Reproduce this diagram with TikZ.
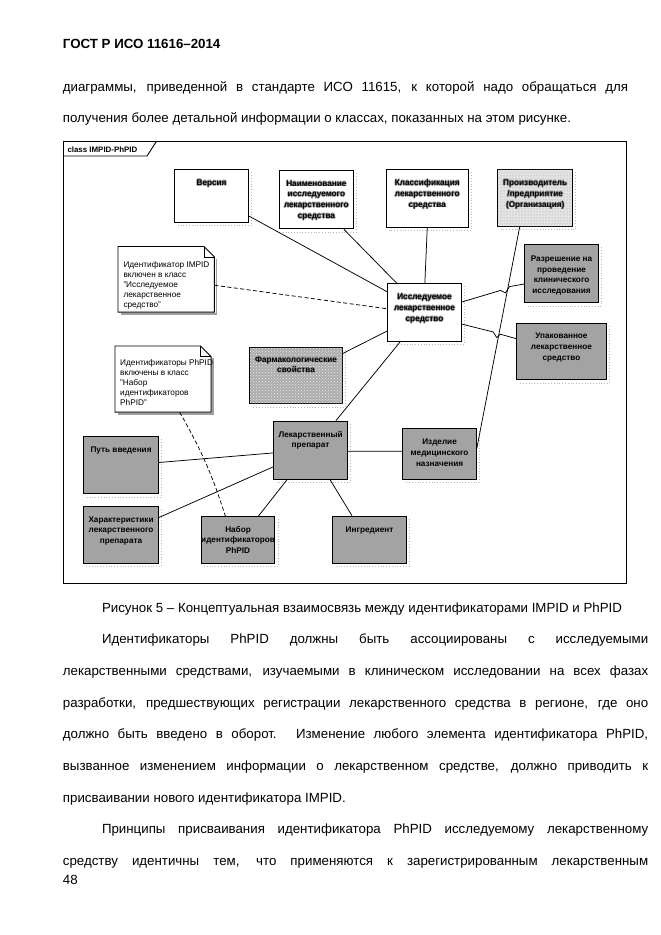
\documentclass[tikz,border=0pt]{standalone}
\usepackage{fontspec}
\setmainfont{Liberation Sans}
\usetikzlibrary{calc,patterns}

\definecolor{boxgray}{RGB}{163,163,163}
\definecolor{litegray}{RGB}{228,228,228}
\definecolor{pharmgray}{RGB}{172,172,172}
\definecolor{halogray}{RGB}{150,150,150}

\newcommand\halo[1]{\leavevmode\rlap{\textcolor{halogray}{\kern0.8pt#1}}\rlap{\textcolor{halogray}{\kern-0.8pt#1}}\rlap{\textcolor{halogray}{\raisebox{0.8pt}{#1}}}\rlap{\textcolor{halogray}{\raisebox{-0.8pt}{#1}}}#1}
\newcommand\clines[1]{\begin{tabular}{@{}c@{}}#1\end{tabular}}
\newcommand\llines[1]{\begin{tabular}{@{}l@{}}#1\end{tabular}}
\newcommand\boxshadow[1]{\draw[shadowln] ($(#1.north east)+(2.5,3)$) -- ($(#1.south east)+(2.5,2.5)$) -- ($(#1.south west)+(3,2.5)$);}

\tikzset{
  cbox/.style={draw=black, line width=1.1pt, inner sep=0pt, anchor=north west},
  whitebox/.style={cbox, fill=white},
  graybox/.style={cbox, fill=boxgray},
  lbl/.style={inner sep=0pt, anchor=north, font=\fontsize{8.2}{10.8}\selectfont\bfseries},
  notetext/.style={inner sep=0pt, anchor=north west, font=\fontsize{8.25}{10}\selectfont},
  notebd/.style={draw=black, line width=0.9pt, fill=white},
  noteshadow/.style={draw=gray!75, line width=1.3pt},
  link/.style={line width=0.75pt},
  dlink/.style={line width=0.75pt, dash pattern=on 4pt off 2.5pt},
  shadowln/.style={gray!55, line width=0.8pt, dotted},
  body/.style={inner sep=0pt, anchor=base west, font=\fontsize{13.3}{16}\selectfont},
}

\begin{document}
\begin{tikzpicture}[x=1pt, y=-1pt]
\useasboundingbox[fill=white] (0,0) rectangle (661,935);

% ---------- page text ----------
\node[body] (hdr) at (62.7,48.5) {\bfseries ГОСТ Р ИСО 11616–2014};
\node[body] (l1) at (62.7,91.5) {\makebox[565.3pt][s]{диаграммы, приведенной в стандарте ИСО 11615, к которой надо обращаться для}};
\node[body] (l2) at (62.7,122) {получения более детальной информации о классах, показанных на этом рисунке.};

\node[body] (cap) at (101.8,612) {Рисунок 5 – Концептуальная взаимосвязь между идентификаторами IMPID и PhPID};
\node[body] (p1) at (101.8,643.7) {\makebox[546.2pt][s]{Идентификаторы PhPID должны быть ассоциированы с исследуемыми}};
\node[body] (p2) at (62.7,675.4) {\makebox[585.3pt][s]{лекарственными средствами, изучаемыми в клиническом исследовании на всех фазах}};
\node[body] (p3) at (62.7,707.1) {\makebox[585.3pt][s]{разработки, предшествующих регистрации лекарственного средства в регионе, где оно}};
\node[body] (p4) at (62.7,738.8) {\makebox[585.3pt][s]{должно быть введено в оборот. Изменение любого элемента идентификатора PhPID,}};
\node[body] (p5) at (62.7,770.5) {\makebox[585.3pt][s]{вызванное изменением информации о лекарственном средстве, должно приводить к}};
\node[body] (p6) at (62.7,802.2) {присваивании нового идентификатора IMPID.};
\node[body] (p7) at (101.8,833.9) {\makebox[546.2pt][s]{Принципы присваивания идентификатора PhPID исследуемому лекарственному}};
\node[body] (p8) at (62.7,865.6) {\makebox[585.3pt][s]{средству идентичны тем, что применяются к зарегистрированным лекарственным}};
\node[body] (pg) at (62.7,884.5) {48};

% ---------- diagram frame ----------
\node[draw=black, line width=1pt, inner sep=0pt, anchor=north west, minimum width=562.4pt, minimum height=442pt] (frame) at (63.3,141) {};
\draw[line width=0.9pt] ($(frame.north west)+(0,15)$) -- ($(frame.north west)+(83.7,15)$) -- ($(frame.north west)+(93.4,0)$);
\node[anchor=base west, inner sep=0pt, font=\fontsize{7.9}{9}\selectfont\bfseries] (tabt) at ($(frame.north west)+(4,11.3)$) {class IMPID-PhPID};

% ---------- boxes ----------
\node[whitebox, minimum width=73.4pt, minimum height=52.7pt] (ver) at (174.3,169.3) {};
\node[whitebox, minimum width=73.7pt, minimum height=58.3pt] (naim) at (279,170) {};
\node[whitebox, minimum width=82pt, minimum height=57.4pt] (cls) at (385.7,169.3) {};
\node[cbox, fill=litegray, postaction={pattern=dots, pattern color=gray!80}, minimum width=74.7pt, minimum height=56.7pt] (mfr) at (497.3,169.3) {};
\node[graybox, minimum width=73.4pt, minimum height=58pt] (perm) at (524.3,244.3) {};
\node[graybox, minimum width=89.7pt, minimum height=56.6pt] (pack) at (516,322.7) {};
\node[whitebox, minimum width=73.4pt, minimum height=57.4pt] (imp) at (387.3,283.3) {};
\node[cbox, fill=pharmgray, postaction={pattern=crosshatch dots, pattern color=white!85!gray}, minimum width=92.4pt, minimum height=56.6pt] (pharm) at (249.3,346.7) {};
\node[graybox, minimum width=73.4pt, minimum height=58pt] (mp) at (273.3,420.7) {};
\node[graybox, minimum width=74.4pt, minimum height=57.3pt] (route) at (83.3,436) {};
\node[graybox, minimum width=74.4pt, minimum height=56.7pt] (chr) at (83.3,506) {};
\node[graybox, minimum width=73.6pt, minimum height=46.7pt] (phset) at (200.7,516) {};
\node[graybox, minimum width=73.4pt, minimum height=47pt] (ingr) at (332.3,515.7) {};
\node[graybox, minimum width=73.4pt, minimum height=50.4pt] (dev) at (402.3,428.3) {};

\foreach \b in {ver,naim,cls,mfr,perm,pack,imp,pharm,mp,route,chr,phset,ingr,dev}{\boxshadow{\b}}

% ---------- notes ----------
\node[inner sep=0pt, anchor=north west, minimum width=96pt, minimum height=65.2pt] (n1) at (118,246.5) {};
\node[inner sep=0pt, anchor=north west, minimum width=95.7pt, minimum height=65.7pt] (n2) at (115,346) {};
\foreach \n in {n1,n2}{
  \draw[noteshadow] ($(\n.north east)+(2,12)$) -- ($(\n.south east)+(2,2)$) -- ($(\n.south west)+(3,2)$);
  \draw[notebd] (\n.south west) -- (\n.north west) -- ($(\n.north east)+(-10.5,0)$) -- ($(\n.north east)+(0,10.5)$) -- (\n.south east) -- cycle;
  \draw[line width=0.8pt] ($(\n.north east)+(-10.5,0)$) -- ($(\n.north east)+(-10.5,10.5)$) -- ($(\n.north east)+(0,10.5)$);
}
\node[notetext] (n1t) at ($(n1.north west)+(5.3,13.5)$) {\llines{Идентификатор IMPID\\включен в класс\\"Исследуемое\\лекарственное\\средство"}};
\node[notetext] (n2t) at ($(n2.north west)+(5,12.7)$) {\llines{Идентификаторы PhPID\\включены в класс\\"Набор\\идентификаторов\\PhPID"}};

% ---------- connectors ----------
\draw[link] ($(ver.north east)!0.867!(ver.south east)$) -- ($(imp.north west)!0.146!(imp.south west)$);
\draw[link] ($(naim.south west)!0.868!(naim.south east)$) -- ($(imp.north west)!0.128!(imp.north east)$);
\draw[link] (cls.south) -- ($(imp.north west)!0.504!(imp.north east)$);
\draw[link] ($(mfr.south west)!0.295!(mfr.south east)$) -- ($(dev.north east)!0.39!(dev.south east)$);
\draw[link] ($(imp.north east)!0.32!(imp.south east)$) -- (500.5,290.4) -- (505.5,292.8) -- (509.5,286.6) -- ($(perm.north west)!0.672!(perm.south west)$);
\draw[link] ($(imp.north east)!0.697!(imp.south east)$) -- (493.3,332) -- (496.7,337.6) -- (500.3,334.2) -- ($(pack.north west)!0.276!(pack.south west)$);
\draw[dlink] ($(n1.north east)!0.59!(n1.south east)$) -- ($(imp.north west)!0.436!(imp.south west)$);
\draw[link] ($(pharm.north east)!0.117!(pharm.south east)$) -- ($(imp.north west)!0.814!(imp.south west)$);
\draw[link] ($(mp.north west)!0.84!(mp.north east)$) -- ($(imp.south west)!0.173!(imp.south east)$);
\draw[link] ($(route.north east)!0.454!(route.south east)$) -- ($(mp.north west)!0.545!(mp.south west)$);
\draw[link] ($(chr.north east)!0.2!(chr.south east)$) -- ($(mp.north west)!0.78!(mp.south west)$);
\draw[link] ($(phset.north west)!0.774!(phset.north east)$) -- ($(mp.south west)!0.183!(mp.south east)$);
\draw[dlink] ($(n2.south west)!0.672!(n2.south east)$) to[bend left=6] ($(phset.north west)!0.33!(phset.north east)$);
\draw[link] ($(mp.south west)!0.763!(mp.south east)$) -- ($(ingr.north west)!0.264!(ingr.north east)$);
\draw[link] ($(mp.north east)!0.517!(mp.south east)$) -- ($(dev.north west)!0.444!(dev.south west)$);

% ---------- box labels ----------
\node[lbl] (vert) at ($(ver.north)+(0,8.4)$) {\clines{\halo{Версия}}};
\node[lbl] (naimt) at ($(naim.north)+(0,8.4)$) {\clines{\halo{Наименование}\\\halo{исследуемого}\\\halo{лекарственного}\\\halo{средства}}};
\node[lbl] (clst) at ($(cls.north)+(0,8.4)$) {\clines{\halo{Классификация}\\\halo{лекарственного}\\\halo{средства}}};
\node[lbl] (mfrt) at ($(mfr.north)+(0,8.4)$) {\clines{\halo{Производитель}\\\halo{/предприятие}\\\halo{(Организация)}}};
\node[lbl] (permt) at ($(perm.north)+(0,9.2)$) {\clines{Разрешение на\\проведение\\клинического\\исследования}};
\node[lbl] (packt) at ($(pack.north)+(0,8.4)$) {\clines{Упакованное\\лекарственное\\средство}};
\node[lbl] (impt) at ($(imp.north)+(0,8.6)$) {\clines{\halo{Исследуемое}\\\halo{лекарственное}\\\halo{средство}}};
\node[lbl] (pharmt) at ($(pharm.north)+(0,7.6)$) {\clines{\halo{Фармакологические}\\\halo{свойства}}};
\node[lbl] (mpt) at ($(mp.north)+(0,8.6)$) {\clines{Лекарственный\\препарат}};
\node[lbl] (routet) at ($(route.north)+(0,8.6)$) {\clines{Путь введения}};
\node[lbl] (chrt) at ($(chr.north)+(0,8.4)$) {\clines{Характеристики\\лекарственного\\препарата}};
\node[lbl] (phsett) at ($(phset.north)+(0,8.4)$) {\clines{Набор\\идентификаторов\\PhPID}};
\node[lbl] (ingrt) at ($(ingr.north)+(0,8.8)$) {\clines{Ингредиент}};
\node[lbl] (devt) at ($(dev.north)+(0,8.6)$) {\clines{Изделие\\медицинского\\назначения}};
\end{tikzpicture}
\end{document}
